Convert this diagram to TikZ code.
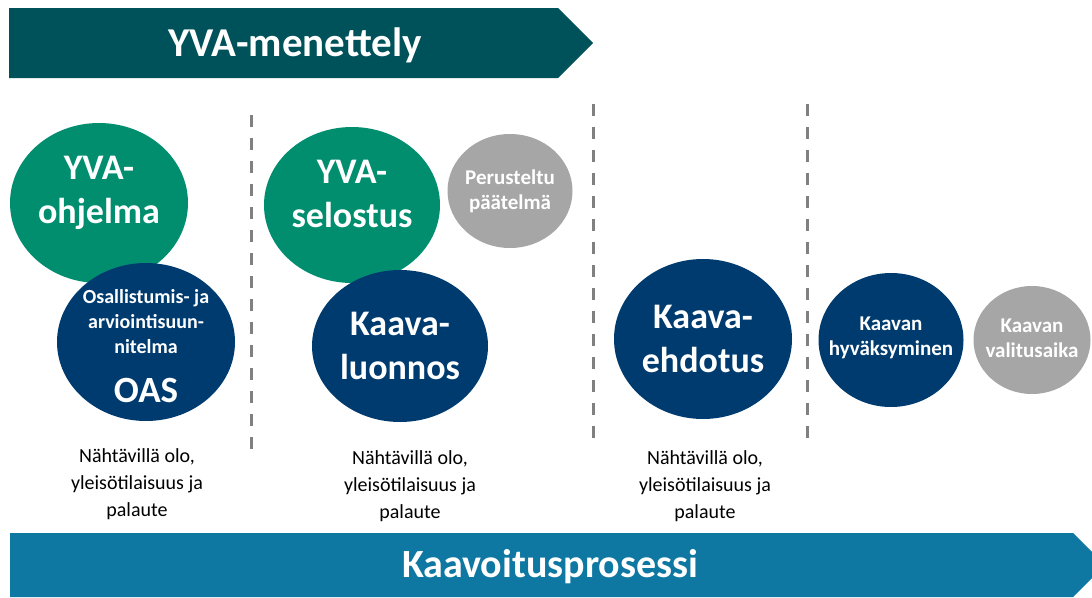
\documentclass[tikz,border=0pt]{standalone}
\usepackage{fontspec}
\setmainfont{Carlito}
\usetikzlibrary{shapes.geometric,positioning}
\definecolor{yvateal}{RGB}{0,82,90}
\definecolor{yvagreen}{RGB}{0,142,111}
\definecolor{kaavablue}{RGB}{0,59,111}
\definecolor{phasegray}{RGB}{166,166,166}
\definecolor{processblue}{RGB}{14,120,162}
\definecolor{divgray}{RGB}{128,128,128}

\begin{document}
\begin{tikzpicture}[x=1pt, y=-1pt,
  ball/.style={ellipse, inner sep=0pt},
  bigtext/.style={text=white, align=center, font=\bfseries\fontsize{36}{44}\selectfont},
  smalltext/.style={text=white, align=center, font=\bfseries\fontsize{21}{25}\selectfont},
  divider/.style={divgray, line width=3pt, dash pattern=on 12pt off 11pt},
  feedback/.style={align=center, font=\fontsize{20}{27}\selectfont}]
\useasboundingbox (0,0) rectangle (1092,597);

% YVA banner
\fill[yvateal] (9,8) -- (558,8) -- (593,43) -- (558,78) -- (9,78) -- cycle;
\node[text=white, font=\bfseries\fontsize{41}{44}\selectfont] (yva) at (295,45) {YVA-menettely};

% Kaavoitus banner
\fill[processblue] (10,533) -- (1073,533) -- (1092,552) -- (1092,578) -- (1073,597) -- (10,597) -- cycle;
\node[text=white, font=\bfseries\fontsize{40}{44}\selectfont] (kaava) at (550,567) {Kaavoitusprosessi};

% Phase dividers
\draw[divider] (251,115) -- (251,458);
\draw[divider] (593,104) -- (593,446);
\draw[divider] (807,104) -- (807,446);

% Phase 1
\node[ball, fill=yvagreen, minimum width=178, minimum height=160] (yvaohj) at (99,203) {};
\node[bigtext] (yvaohjtxt) at (99,193) {YVA-\\ohjelma};
\node[ball, fill=kaavablue, minimum width=178, minimum height=158] (oas) at (146,342) {};
\node[smalltext] (oastxt) at (146,346)
  {\fontsize{20}{24}\selectfont Osallistumis- ja\\\fontsize{20}{24}\selectfont arviointisuun-\\\fontsize{20}{24}\selectfont nitelma\\[24pt]\fontsize{37}{44}\selectfont OAS};

% Phase 2
\node[ball, fill=yvagreen, minimum width=176, minimum height=156] (yvasel) at (352,205) {};
\node[bigtext] (yvaseltxt) at (352,194) {YVA-\\selostus};
\node[ball, fill=phasegray, minimum width=125, minimum height=114] (paatelma) at (510,191) {};
\node[smalltext] (paatelmatxt) at (510,191) {Perusteltu\\päätelmä};
\node[ball, fill=kaavablue, minimum width=176, minimum height=152] (luonnos) at (400,346) {};
\node[bigtext] (luonnostxt) at (400,346) {Kaava-\\luonnos};

% Phase 3
\node[ball, fill=kaavablue, minimum width=178, minimum height=160] (ehdotus) at (703,339) {};
\node[bigtext] (ehdotustxt) at (703,339) {Kaava-\\ehdotus};

% Phase 4
\node[ball, fill=kaavablue, minimum width=145, minimum height=134] (hyvaks) at (891,340) {};
\node[smalltext] (hyvakstxt) at (891,338) {Kaavan\\hyväksyminen};
\node[ball, fill=phasegray, minimum width=117, minimum height=108] (valitus) at (1032,340) {};
\node[smalltext] (valitustxt) at (1032,338) {Kaavan\\valitusaika};

% Feedback notes
\node[feedback] (note1) at (137,484) {Nähtävillä olo,\\yleisötilaisuus ja\\palaute};
\node[feedback] (note2) at (410,486) {Nähtävillä olo,\\yleisötilaisuus ja\\palaute};
\node[feedback] (note3) at (705,486) {Nähtävillä olo,\\yleisötilaisuus ja\\palaute};
\end{tikzpicture}
\end{document}
